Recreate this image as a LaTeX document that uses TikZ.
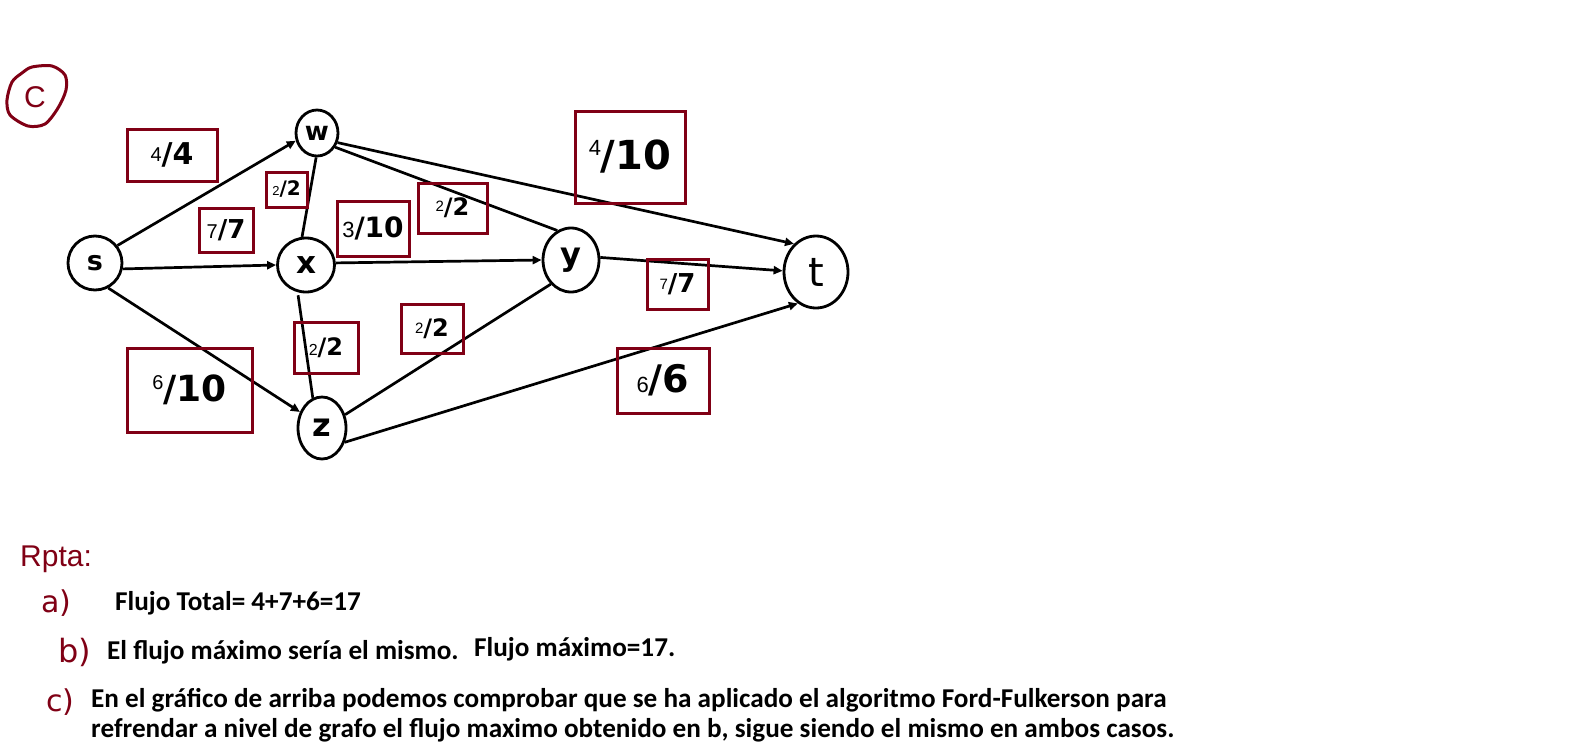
\documentclass[tikz,border=0pt]{standalone}
\usepackage{fontspec}
\setmainfont{Carlito}
\newfontfamily\hand{DejaVu Sans}
\newfontfamily\thin{Liberation Sans}
\usetikzlibrary{arrows.meta,shapes.geometric}
\definecolor{dred}{RGB}{128,0,21}
\newcommand\fl[5][0pt]{\raisebox{#1}{\thin\fontsize{#2}{#2}\selectfont #3}{\hand\bfseries\fontsize{#4}{#4}\selectfont /#5}}
\begin{document}
\begin{tikzpicture}[x=1pt,y=-1pt,
  vtx/.style={draw,ellipse,line width=2.8pt,inner sep=0pt},
  edge/.style={line width=2.7pt},
  arr/.style={edge,-{Triangle[length=9pt,width=8pt]}},
  lbox/.style={draw=dred,line width=3pt,inner sep=0pt,align=center},
  hw/.style={text=dred,font=\hand,inner sep=0pt},
  txt/.style={anchor=base west,inner sep=0pt,font=\bfseries\fontsize{27.2}{32}\selectfont}]
\useasboundingbox[fill=white] (0,0) rectangle (1594,755);

% circled C
\draw[dred,line width=3pt] plot[smooth cycle] coordinates {(32,67) (52,66) (65,75) (66,90) (58,108) (45,124) (28,126) (10,115) (7,100) (12,82) (22,73)};
\node[hw,font=\thin\fontsize{30}{30}\selectfont] (cc) at (35,97) {C};

% vertices
\node[vtx,minimum width=54,minimum height=54,font=\hand\bfseries\fontsize{27}{27}\selectfont] (s) at (95,263) {s};
\node[vtx,minimum width=42,minimum height=46,font=\hand\bfseries\fontsize{26}{26}\selectfont] (w) at (317,133) {w};
\node[vtx,minimum width=57,minimum height=54,font=\hand\bfseries\fontsize{31}{31}\selectfont] (x) at (306,265) {x};
\node[vtx,minimum width=56,minimum height=64,font=\hand\bfseries\fontsize{32}{32}\selectfont] (y) at (571,260) {y};
\node[vtx,minimum width=64,minimum height=72,font=\hand\fontsize{40}{40}\selectfont] (t) at (816,272) {t};
\node[vtx,minimum width=48,minimum height=62,font=\hand\bfseries\fontsize{32}{32}\selectfont] (z) at (322,428) {z};

% edges
\draw[arr] (s.38) -- (w.200);
\draw[arr] (s.-12) -- (x.180);
\draw[arr] (s.-62) -- (z.144);
\draw[edge] (x.98) -- (w.-92);
\draw[edge] (w.-38) -- (y.115);
\draw[arr] (w.-25) -- (t.128);
\draw[arr] (x.4) -- (y.180);
\draw[arr] (y.5) -- (t.178);
\draw[edge,shorten <=3pt] (x.-107) -- (z.107);
\draw[edge] (z.30) -- (y.230);
\draw[arr] (z.-32) -- (t.240);

% flow labels
\node[lbox,minimum width=90,minimum height=52] (l1) at (172,155) {\fl[3pt]{20}{4}{30}{4}};
\node[lbox,minimum width=41,minimum height=35] (l2) at (286.5,189.5) {\fl{13}{2}{20}{2}};
\node[lbox,minimum width=54,minimum height=44] (l3) at (226,230) {\fl{20}{7}{26}{7}};
\node[lbox,minimum width=72,minimum height=55] (l4) at (373,228.5) {\fl{22}{3}{28}{10}};
\node[lbox,minimum width=69,minimum height=50] (l5) at (452.5,208) {\fl[4pt]{15}{2}{24}{2}};
\node[lbox,minimum width=110,minimum height=92] (l6) at (630,157) {\fl[14pt]{22}{4}{40}{10}};
\node[lbox,minimum width=61,minimum height=50] (l7) at (677.5,284) {\fl[3pt]{15}{7}{26}{7}};
\node[lbox,minimum width=64,minimum height=51] (l8) at (326,347.5) {\fl{16}{2}{24}{2}};
\node[lbox,minimum width=125,minimum height=84] (l9) at (189.5,390) {\fl[12pt]{20}{6}{36}{10}};
\node[lbox,minimum width=62,minimum height=49] (l10) at (432,328.5) {\fl[3pt]{15}{2}{24}{2}};
\node[lbox,minimum width=92,minimum height=65] (l11) at (663,380.5) {\fl{22}{6}{38}{6}};

% answers
\node[hw,font=\thin\fontsize{30}{30}\selectfont,anchor=base west] (rpta) at (20,566) {Rpta:};
\node[hw,font=\hand\fontsize{30}{30}\selectfont,anchor=base west] (la) at (41,612) {a)};
\node[hw,font=\hand\fontsize{32}{32}\selectfont,anchor=base west] (lb) at (58,662) {b)};
\node[hw,font=\hand\fontsize{30}{30}\selectfont,anchor=base west] (lc) at (46,711) {c)};

\node[txt] (ta) at (115,610) {Flujo Total= 4+7+6=17};
\node[txt] (tb) at (107,659) {El flujo máximo sería el mismo.};
\node[txt] (tb2) at (474,656) {Flujo máximo=17.};
\node[txt] (tc1) at (91,707) {En el gráfico de arriba podemos comprobar que se ha aplicado el algoritmo Ford-Fulkerson para};
\node[txt] (tc2) at (91,737) {refrendar a nivel de grafo el flujo maximo obtenido en b, sigue siendo el mismo en ambos casos.};
\end{tikzpicture}
\end{document}
